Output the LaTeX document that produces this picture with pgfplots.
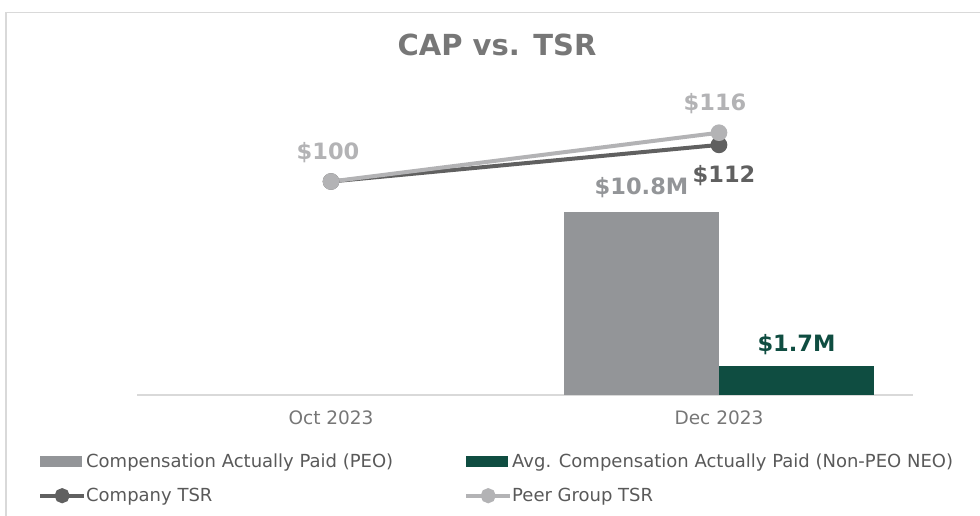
\documentclass[border=0pt]{standalone}
\usepackage{pgfplots}
\pgfplotsset{compat=1.18}
\usepackage{fontspec}
\setmainfont{DejaVu Sans}
\definecolor{peo}{HTML}{939598}
\definecolor{npeo}{HTML}{0F4D41}
\definecolor{comp}{HTML}{606060}
\definecolor{peer}{HTML}{B3B3B5}
\definecolor{ttl}{HTML}{777777}
\definecolor{tickc}{HTML}{767676}
\definecolor{leg}{HTML}{595959}
\definecolor{framec}{HTML}{D9D9D9}
\begin{document}
\begin{tikzpicture}
\path[use as bounding box] (0,0) rectangle (980pt,516pt);
\draw[framec, line width=1.5pt] (6pt,0pt) -- (6pt,503.5pt) -- (980pt,503.5pt);
\node[font=\fontsize{29}{34}\selectfont\bfseries, text=ttl] at (497pt,471pt) {CAP vs. TSR};
\pgfplotsset{common/.style={scale only axis, width=776pt, height=305pt,
  at={(137pt,121pt)}, anchor=south west, xmin=-0.5, xmax=1.5, clip=false}}
\begin{axis}[common, ymin=0, ymax=18, ybar=0pt, bar width=155pt,
  axis y line=none, axis x line*=bottom,
  x axis line style={framec, line width=1.5pt, -},
  xtick={0,1}, xticklabels={Oct 2023,Dec 2023}, major tick length=0pt,
  xticklabel style={font=\fontsize{18.5}{22}\selectfont, text=tickc, yshift=-12pt}]
\addplot[fill=peo, draw=none] coordinates {(1,10.8)};
\addplot[fill=npeo, draw=none] coordinates {(1,1.7)};
\node[font=\fontsize{22.5}{26}\selectfont\bfseries, text=peo, xshift=-77.5pt, yshift=24pt] at (axis cs:1,10.8) {\$10.8M};
\node[font=\fontsize{22.5}{26}\selectfont\bfseries, text=npeo, xshift=77.5pt, yshift=22pt] at (axis cs:1,1.7) {\$1.7M};
\end{axis}
\begin{axis}[common, ymin=30, ymax=130, hide axis,
  legend columns=2,
  legend style={draw=none, fill=none, font=\fontsize{18}{22}\selectfont, text=leg,
    at={(-0.1315,-0.18)}, anchor=north west, row sep=15pt,
    nodes={inner sep=2pt},
    /tikz/every even column/.append style={column sep=69pt},
    /tikz/every odd column/.append style={column sep=-2pt}},
  legend cell align=left]
\addlegendimage{legend image code/.code={\fill[peo] (0pt,-5pt) rectangle (41pt,5pt);}}
\addlegendimage{legend image code/.code={\fill[npeo] (0pt,-5pt) rectangle (41pt,5pt);}}
\addplot[comp, line width=4pt, mark=*, mark size=6.3pt, mark options={draw=none},
  legend image code/.code={\draw[mark repeat=2, mark phase=2, mark size=5.5pt] plot coordinates {(0pt,0pt) (22pt,0pt) (44pt,0pt)};}]
  coordinates {(0,100) (1,112)};
\addplot[peer, line width=4pt, mark=*, mark size=6.3pt, mark options={draw=none},
  legend image code/.code={\draw[mark repeat=2, mark phase=2, mark size=5.5pt] plot coordinates {(0pt,0pt) (22pt,0pt) (44pt,0pt)};}]
  coordinates {(0,100) (1,116)};
\legend{Compensation Actually Paid (PEO),Avg. Compensation Actually Paid (Non-PEO NEO),Company TSR,Peer Group TSR}
\node[font=\fontsize{22.5}{26}\selectfont\bfseries, text=peer, xshift=-3pt, yshift=29pt] at (axis cs:0,100) {\$100};
\node[font=\fontsize{22.5}{26}\selectfont\bfseries, text=peer, xshift=-4pt, yshift=29pt] at (axis cs:1,116) {\$116};
\node[font=\fontsize{22.5}{26}\selectfont\bfseries, text=comp, xshift=5pt, yshift=-31pt] at (axis cs:1,112) {\$112};
\end{axis}
\end{tikzpicture}
\end{document}
